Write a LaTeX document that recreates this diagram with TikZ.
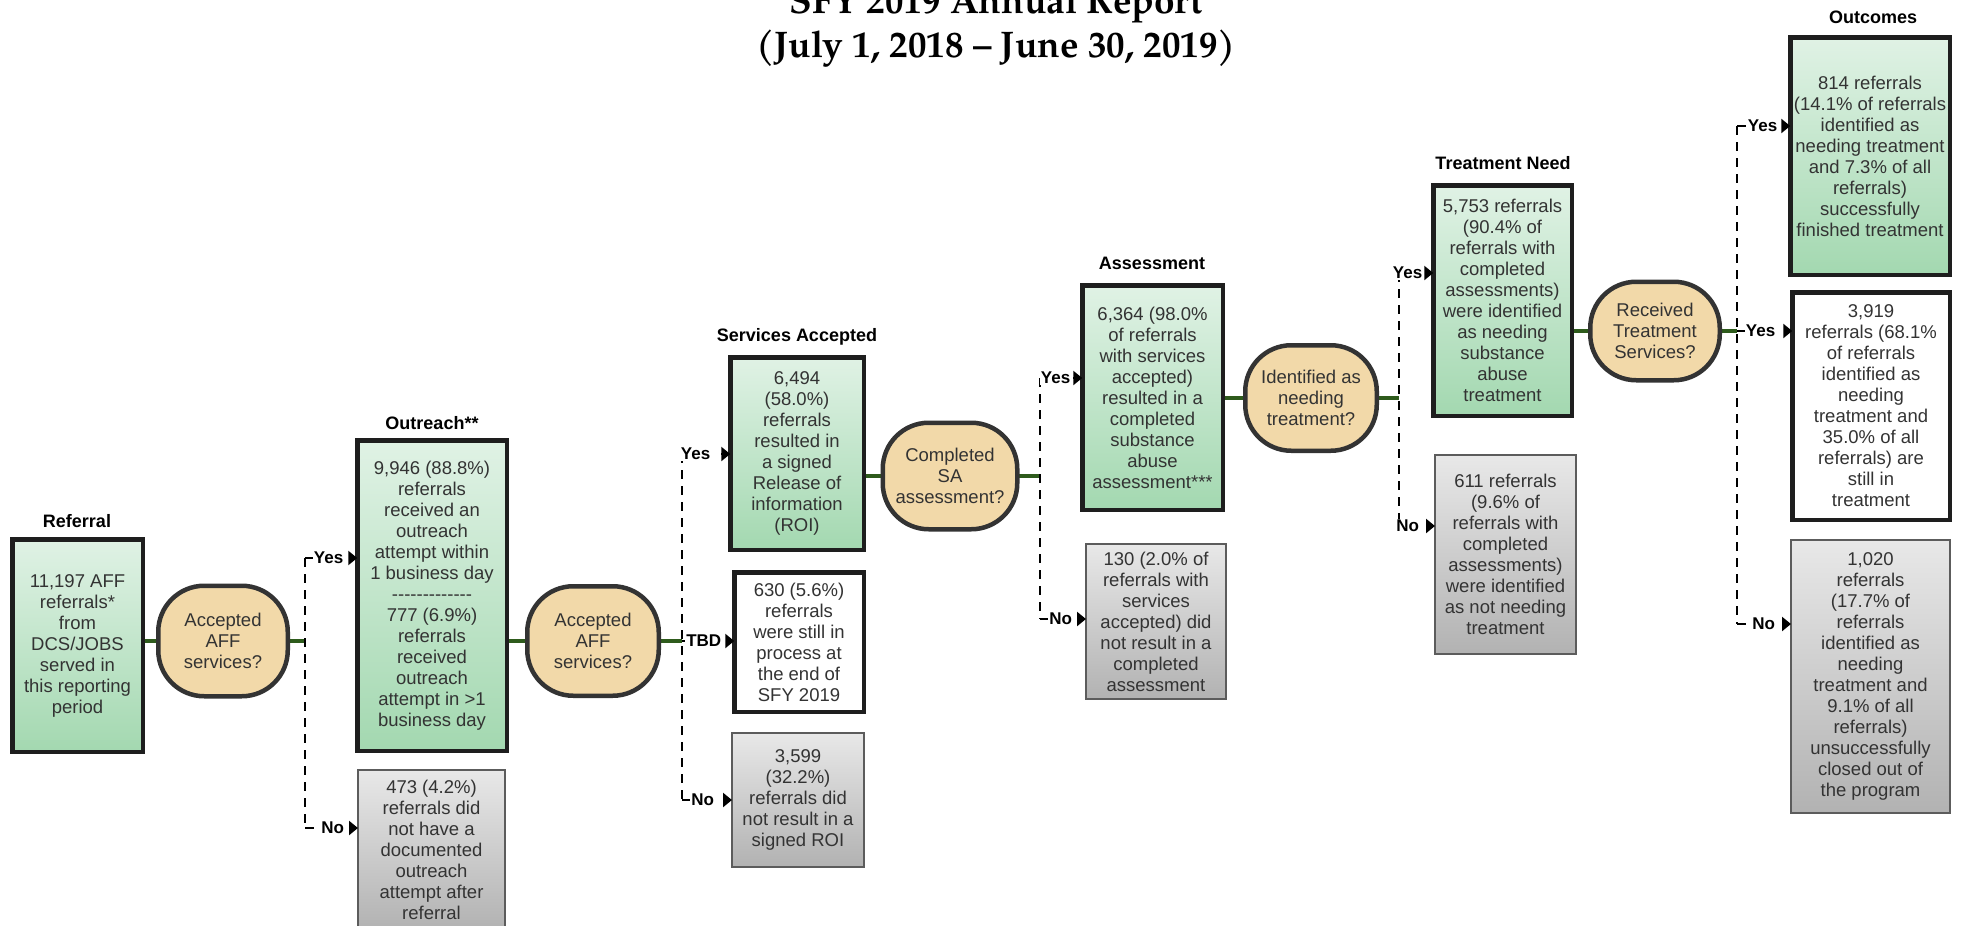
\documentclass[tikz,border=0pt]{standalone}
\usepackage{fontspec}
\setmainfont{Liberation Sans}
\newfontfamily\titlefont{TeX Gyre Pagella}
\usetikzlibrary{arrows.meta,backgrounds}
\definecolor{gtop}{HTML}{E0F2E5}
\definecolor{gbot}{HTML}{A3D8B0}
\definecolor{graytop}{HTML}{E8E8E8}
\definecolor{graybot}{HTML}{B2B2B2}
\definecolor{circfill}{HTML}{F2D9A9}
\definecolor{circborder}{HTML}{333333}
\definecolor{boxborder}{HTML}{1E1E1E}
\definecolor{grayborder}{HTML}{5C5C5C}
\definecolor{conngreen}{HTML}{2E5B1C}
\definecolor{txtgray}{HTML}{333333}
\begin{document}
\begin{tikzpicture}[x=1pt,y=-1pt,
  every node/.style={inner sep=0pt,outer sep=0pt},
  txt/.style={font=\fontsize{18.5}{21}\selectfont,text=txtgray,align=center},
  greenbox/.style={txt,rectangle,draw=boxborder,line width=4.5pt,top color=gtop,bottom color=gbot},
  whitebox/.style={txt,rectangle,draw=boxborder,line width=4.5pt,fill=white},
  graybox/.style={txt,rectangle,draw=grayborder,line width=2pt,top color=graytop,bottom color=graybot},
  decision/.style={txt,rectangle,draw=circborder,line width=4.5pt,fill=circfill,rounded corners=46pt},
  heading/.style={font=\bfseries\fontsize{18}{21}\selectfont,text=black},
  lbl/.style={font=\bfseries\fontsize{17}{20}\selectfont,text=black,fill=white,inner sep=1pt,anchor=east},
  dashline/.style={draw=black,line width=2.6pt,dash pattern=on 9pt off 7pt},
  arr/.style={-{Triangle[length=9pt,width=14pt]}},
  conn/.style={draw=conngreen,line width=4.5pt},
  titlestyle/.style={font=\titlefont\bfseries\fontsize{37}{44}\selectfont,text=black,anchor=base}
]
\useasboundingbox (0,0) rectangle (1965,926);

% title
\node[titlestyle] (title1) at (996,13) {SFY 2019 Annual Report};
\node[titlestyle] (title2) at (996,57) {(July 1, 2018 – June 30, 2019)};

% headings
\node[heading] (h1) at (77,521) {Referral};
\node[heading] (h2) at (432,423) {Outreach**};
\node[heading] (h3) at (797,337) {Services Accepted};
\node[heading] (h4) at (1152,263) {Assessment};
\node[heading] (h5) at (1503,163) {Treatment Need};
\node[heading] (h6) at (1873,17) {Outcomes};

% boxes
\node[greenbox,minimum width=130.5pt,minimum height=212.5pt] (ref) at (77.5,645.5)
  {11,197 AFF\\referrals*\\from\\DCS/JOBS\\served in\\this reporting\\period};
\node[greenbox,minimum width=149.5pt,minimum height=310.5pt] (out) at (432,595.5)
  {9,946 (88.8\%)\\referrals\\received an\\outreach\\attempt within\\1 business day\\-{}-{}-{}-{}-{}-{}-{}-{}-{}-{}-{}-{}-\\777 (6.9\%)\\referrals\\received\\outreach\\attempt in >1\\business day};
\node[graybox,minimum width=147pt,minimum height=160pt] (no1) at (431.5,850)
  {473 (4.2\%)\\referrals did\\not have a\\documented\\outreach\\attempt after\\referral};
\node[greenbox,minimum width=133.5pt,minimum height=192.5pt] (sa) at (797,453.5)
  {6,494\\(58.0\%)\\referrals\\resulted in\\a signed\\Release of\\information\\(ROI)};
\node[whitebox,minimum width=129.5pt,minimum height=139.5pt] (tbd) at (799,642)
  {630 (5.6\%)\\referrals\\were still in\\process at\\the end of\\SFY 2019};
\node[graybox,minimum width=132pt,minimum height=134pt] (no2) at (798,800)
  {3,599\\(32.2\%)\\referrals did\\not result in a\\signed ROI};
\node[greenbox,minimum width=140.5pt,minimum height=224.5pt] (as) at (1152.5,397.5)
  {6,364 (98.0\%\\of referrals\\with services\\accepted)\\resulted in a\\completed\\substance\\abuse\\assessment***};
\node[graybox,minimum width=140pt,minimum height=155pt] (no3) at (1156,621.5)
  {130 (2.0\% of\\referrals with\\services\\accepted) did\\not result in a\\completed\\assessment};
\node[greenbox,minimum width=138.5pt,minimum height=230.5pt] (tn) at (1502.5,300.5)
  {5,753 referrals\\(90.4\% of\\referrals with\\completed\\assessments)\\were identified\\as needing\\substance\\abuse\\treatment};
\node[graybox,minimum width=141pt,minimum height=199pt] (no4) at (1505.5,554.5)
  {611 referrals\\(9.6\% of\\referrals with\\completed\\assessments)\\were identified\\as not needing\\treatment};
\node[greenbox,minimum width=159.5pt,minimum height=237.5pt] (o1) at (1870,156)
  {814 referrals\\(14.1\% of referrals\\identified as\\needing treatment\\and 7.3\% of all\\referrals)\\successfully\\finished treatment};
\node[whitebox,minimum width=157.5pt,minimum height=227.5pt] (o2) at (1871,406)
  {3,919\\referrals (68.1\%\\of referrals\\identified as\\needing\\treatment and\\35.0\% of all\\referrals) are\\still in\\treatment};
\node[graybox,minimum width=159pt,minimum height=273pt] (o3) at (1870.5,676.5)
  {1,020\\referrals\\(17.7\% of\\referrals\\identified as\\needing\\treatment and\\9.1\% of all\\referrals)\\unsuccessfully\\closed out of\\the program};

% decisions
\node[decision,minimum width=129.5pt,minimum height=110.5pt] (c1) at (223,641) {Accepted\\AFF\\services?};
\node[decision,minimum width=131.5pt,minimum height=109.5pt] (c2) at (593,641) {Accepted\\AFF\\services?};
\node[decision,minimum width=134.5pt,minimum height=106.5pt] (c3) at (950,476) {Completed\\SA\\assessment?};
\node[decision,minimum width=131.5pt,minimum height=105.5pt] (c4) at (1311,398) {Identified as\\needing\\treatment?};
\node[decision,minimum width=129.5pt,minimum height=98.5pt] (c5) at (1655,331) {Received\\Treatment\\Services?};

% junctions
\coordinate (y1) at (305,558);
\coordinate (n1) at (305,828);
\coordinate (y2) at (682,454);
\coordinate (t2) at (682,641);
\coordinate (n2) at (682,800);
\coordinate (y3) at (1040,378);
\coordinate (n3) at (1040,619);
\coordinate (y4) at (1399,273);
\coordinate (n4) at (1399,526);
\coordinate (y5a) at (1737,126);
\coordinate (y5b) at (1737,331);
\coordinate (n5) at (1737,624);

% solid green connectors
\begin{scope}[on background layer]
\draw[conn] (ref.east |- c1.west) -- (c1.west);
\draw[conn] (c1.east) -- (c1.east -| y1);
\draw[conn] (out.east |- c2.west) -- (c2.west);
\draw[conn] (c2.east) -- (c2.east -| y2);
\draw[conn] (sa.east |- c3.west) -- (c3.west);
\draw[conn] (c3.east) -- (c3.east -| y3);
\draw[conn] (as.east |- c4.west) -- (c4.west);
\draw[conn] (c4.east) -- (c4.east -| y4);
\draw[conn] (tn.east |- c5.west) -- (c5.west);
\draw[conn] (c5.east) -- (c5.east -| y5b);
\end{scope}

% dashed branches
\draw[dashline] (y1) -- (n1);
\draw[dashline,arr] (y1) -- (y1 -| out.west);
\draw[dashline,arr] (n1) -- (n1 -| no1.west);

\draw[dashline] (y2) -- (n2);
\draw[dashline,arr] (y2) -- (y2 -| sa.west);
\draw[dashline,arr] (t2) -- (t2 -| tbd.west);
\draw[dashline,arr] (n2) -- (n2 -| no2.west);

\draw[dashline] (y3) -- (n3);
\draw[dashline,arr] (y3) -- (y3 -| as.west);
\draw[dashline,arr] (n3) -- (n3 -| no3.west);

\draw[dashline] (y4) -- (n4);
\draw[dashline,arr] (y4) -- (y4 -| tn.west);
\draw[dashline,arr] (n4) -- (n4 -| no4.west);

\draw[dashline] (y5a) -- (n5);
\draw[dashline,arr] (y5a) -- (y5a -| o1.west);
\draw[dashline,arr] (y5b) -- (y5b -| o2.west);
\draw[dashline,arr] (n5) -- (n5 -| o3.west);

% labels (white patch reaches the arrow base)
\node[lbl] (l1y) at ([xshift=-9pt]y1 -| out.west) {Yes\kern4pt};
\node[lbl] (l1n) at ([xshift=-9pt]n1 -| no1.west) {No\kern4pt};
\node[lbl] (l2y) at ([xshift=-9pt]y2 -| sa.west) {Yes\kern10pt};
\node[lbl] (l2t) at ([xshift=-9pt]t2 -| tbd.west) {TBD\kern3pt};
\node[lbl] (l2n) at ([xshift=-9pt]n2 -| no2.west) {No\kern8pt};
\node[lbl] (l3y) at ([xshift=-9pt]y3 -| as.west) {Yes\kern2pt};
\node[lbl] (l3n) at ([xshift=-9pt]n3 -| no3.west) {No\kern4pt};
\node[lbl] (l4y) at ([xshift=-9pt]y4 -| tn.west) {Yes\kern1pt};
\node[lbl] (l4n) at ([xshift=-9pt]n4 -| no4.west) {No\kern6pt};
\node[lbl] (l5a) at ([xshift=-9pt]y5a -| o1.west) {Yes\kern3pt};
\node[lbl] (l5b) at ([xshift=-9pt]y5b -| o2.west) {Yes\kern7pt};
\node[lbl] (l5n) at ([xshift=-9pt]n5 -| o3.west) {No\kern6pt};
\end{tikzpicture}
\end{document}
